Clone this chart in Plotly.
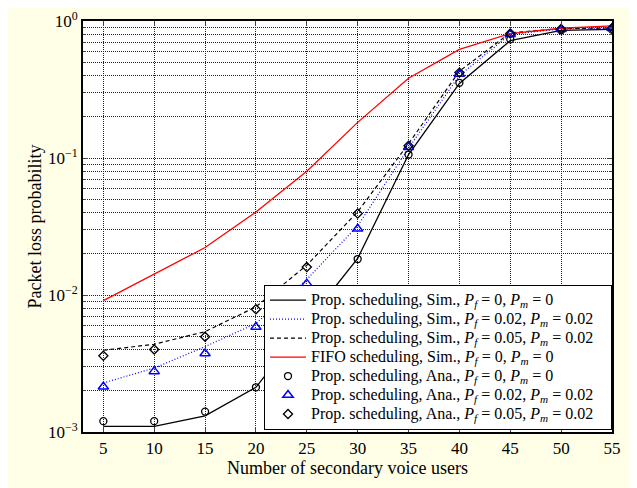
import plotly.graph_objects as go

users = [5, 10, 15, 20, 25, 30, 35, 40, 45, 50, 55]

sim_pf0 = [1.1e-3, 1.1e-3, 1.31e-3, 2.12e-3, 6.3e-3, 0.0185, 0.106, 0.35, 0.72, 0.855, 0.87]
sim_pf02 = [2.28e-3, 2.93e-3, 4.2e-3, 6.2e-3, 0.013, 0.032, 0.118, 0.40, 0.80, 0.875, 0.885]
sim_pf05 = [3.95e-3, 4.37e-3, 5.4e-3, 8.2e-3, 0.0165, 0.0405, 0.127, 0.43, 0.82, 0.88, 0.89]
fifo = [9.1e-3, 0.0142, 0.0222, 0.0404, 0.080, 0.182, 0.382, 0.62, 0.81, 0.885, 0.92]

ana_pf0 = [1.2e-3, 1.2e-3, 1.41e-3, 2.12e-3, 6.3e-3, 0.0183, 0.106, 0.354, 0.735, 0.855, 0.865]
ana_pf02 = [2.14e-3, 2.77e-3, 3.74e-3, 5.83e-3, 0.0121, 0.0304, 0.12, 0.41, 0.80, 0.87, 0.885]
ana_pf05 = [3.6e-3, 4.0e-3, 4.96e-3, 7.87e-3, 0.016, 0.0393, 0.123, 0.42, 0.81, 0.875, 0.885]

names = [
    "Prop. scheduling, Sim., <i>P<sub>f</sub></i> = 0, <i>P<sub>m</sub></i> = 0",
    "Prop. scheduling, Sim., <i>P<sub>f</sub></i> = 0.02, <i>P<sub>m</sub></i> = 0.02",
    "Prop. scheduling, Sim., <i>P<sub>f</sub></i> = 0.05, <i>P<sub>m</sub></i> = 0.02",
    "FIFO scheduling, Sim., <i>P<sub>f</sub></i> = 0, <i>P<sub>m</sub></i> = 0",
    "Prop. scheduling, Ana., <i>P<sub>f</sub></i> = 0, <i>P<sub>m</sub></i> = 0",
    "Prop. scheduling, Ana., <i>P<sub>f</sub></i> = 0.02, <i>P<sub>m</sub></i> = 0.02",
    "Prop. scheduling, Ana., <i>P<sub>f</sub></i> = 0.05, <i>P<sub>m</sub></i> = 0.02",
]

y_major = [1e-3, 1e-2, 1e-1, 1]
y_major_text = ["10<sup>−3</sup>", "10<sup>−2</sup>", "10<sup>−1</sup>", "10<sup>0</sup>"]
y_minor = [m * 10 ** e for e in (-3, -2, -1) for m in range(2, 10)]


def big(s):
    return '<span style="font-size:16px">' + s + "\u00a0\u00a0\u00a0</span>"


fig = go.Figure()
fig.add_trace(go.Scatter(x=users, y=sim_pf0, mode="lines", name=big(names[0]),
                         line=dict(color="black", width=1.3)))
fig.add_trace(go.Scatter(x=users, y=sim_pf02, mode="lines", name=big(names[1]),
                         line=dict(color="blue", width=1.2, dash="1px,2px")))
fig.add_trace(go.Scatter(x=users, y=sim_pf05, mode="lines", name=big(names[2]),
                         line=dict(color="black", width=1.2, dash="4px,3px")))
fig.add_trace(go.Scatter(x=users, y=fifo, mode="lines", name=big(names[3]),
                         line=dict(color="red", width=1.3)))
fig.add_trace(go.Scatter(x=users, y=ana_pf0, mode="markers", name=big(names[4]),
                         marker=dict(symbol="circle-open", color="black", size=7,
                                     line=dict(width=1.3))))
fig.add_trace(go.Scatter(x=users, y=ana_pf02, mode="markers", name=big(names[5]),
                         marker=dict(symbol="triangle-up-open", color="blue", size=9,
                                     line=dict(width=1.5))))
fig.add_trace(go.Scatter(x=users, y=ana_pf05, mode="markers", name=big(names[6]),
                         marker=dict(symbol="diamond-open", color="black", size=7,
                                     line=dict(width=1.3))))

font = "Liberation Serif, Times New Roman, serif"
grid_dash = "1px,1px"
grid_color = "#222"
fig.update_layout(
    width=629, height=480,
    paper_bgcolor="#fffee6",
    plot_bgcolor="white",
    margin=dict(l=75, r=25, t=13, b=56),
    font=dict(family=font, size=17, color="black"),
    showlegend=True,
    legend=dict(x=1, y=0.006, xanchor="right", yanchor="bottom",
                bgcolor="white", bordercolor="black", borderwidth=1,
                font=dict(family=font, size=12, color="black"),
                tracegroupgap=0, itemwidth=36),
    xaxis=dict(
        range=[3, 55], tickvals=users, ticks="inside", ticklen=5,
        showline=True, linecolor="black", linewidth=2, mirror="allticks",
        showgrid=True, gridcolor=grid_color, griddash=grid_dash, gridwidth=1,
        zeroline=False, automargin=False, ticklabeloverflow="allow",
        title=dict(text="Number of secondary voice users", standoff=4,
                   font=dict(size=18)),
        tickfont=dict(size=17),
    ),
    yaxis=dict(
        type="log", range=[-3, 0], tickvals=y_major, ticktext=y_major_text,
        ticks="inside", ticklen=5, automargin=False, ticklabeloverflow="allow",
        showline=True, linecolor="black", linewidth=2, mirror="allticks",
        showgrid=True, gridcolor=grid_color, griddash=grid_dash, gridwidth=1,
        minor=dict(tickvals=y_minor, ticks="inside", ticklen=3,
                   showgrid=True, gridcolor=grid_color, griddash=grid_dash, gridwidth=1),
        title=dict(text="Packet loss probability", standoff=2,
                   font=dict(size=18)),
        tickfont=dict(size=17),
    ),
)

fig.write_html("out.html")
